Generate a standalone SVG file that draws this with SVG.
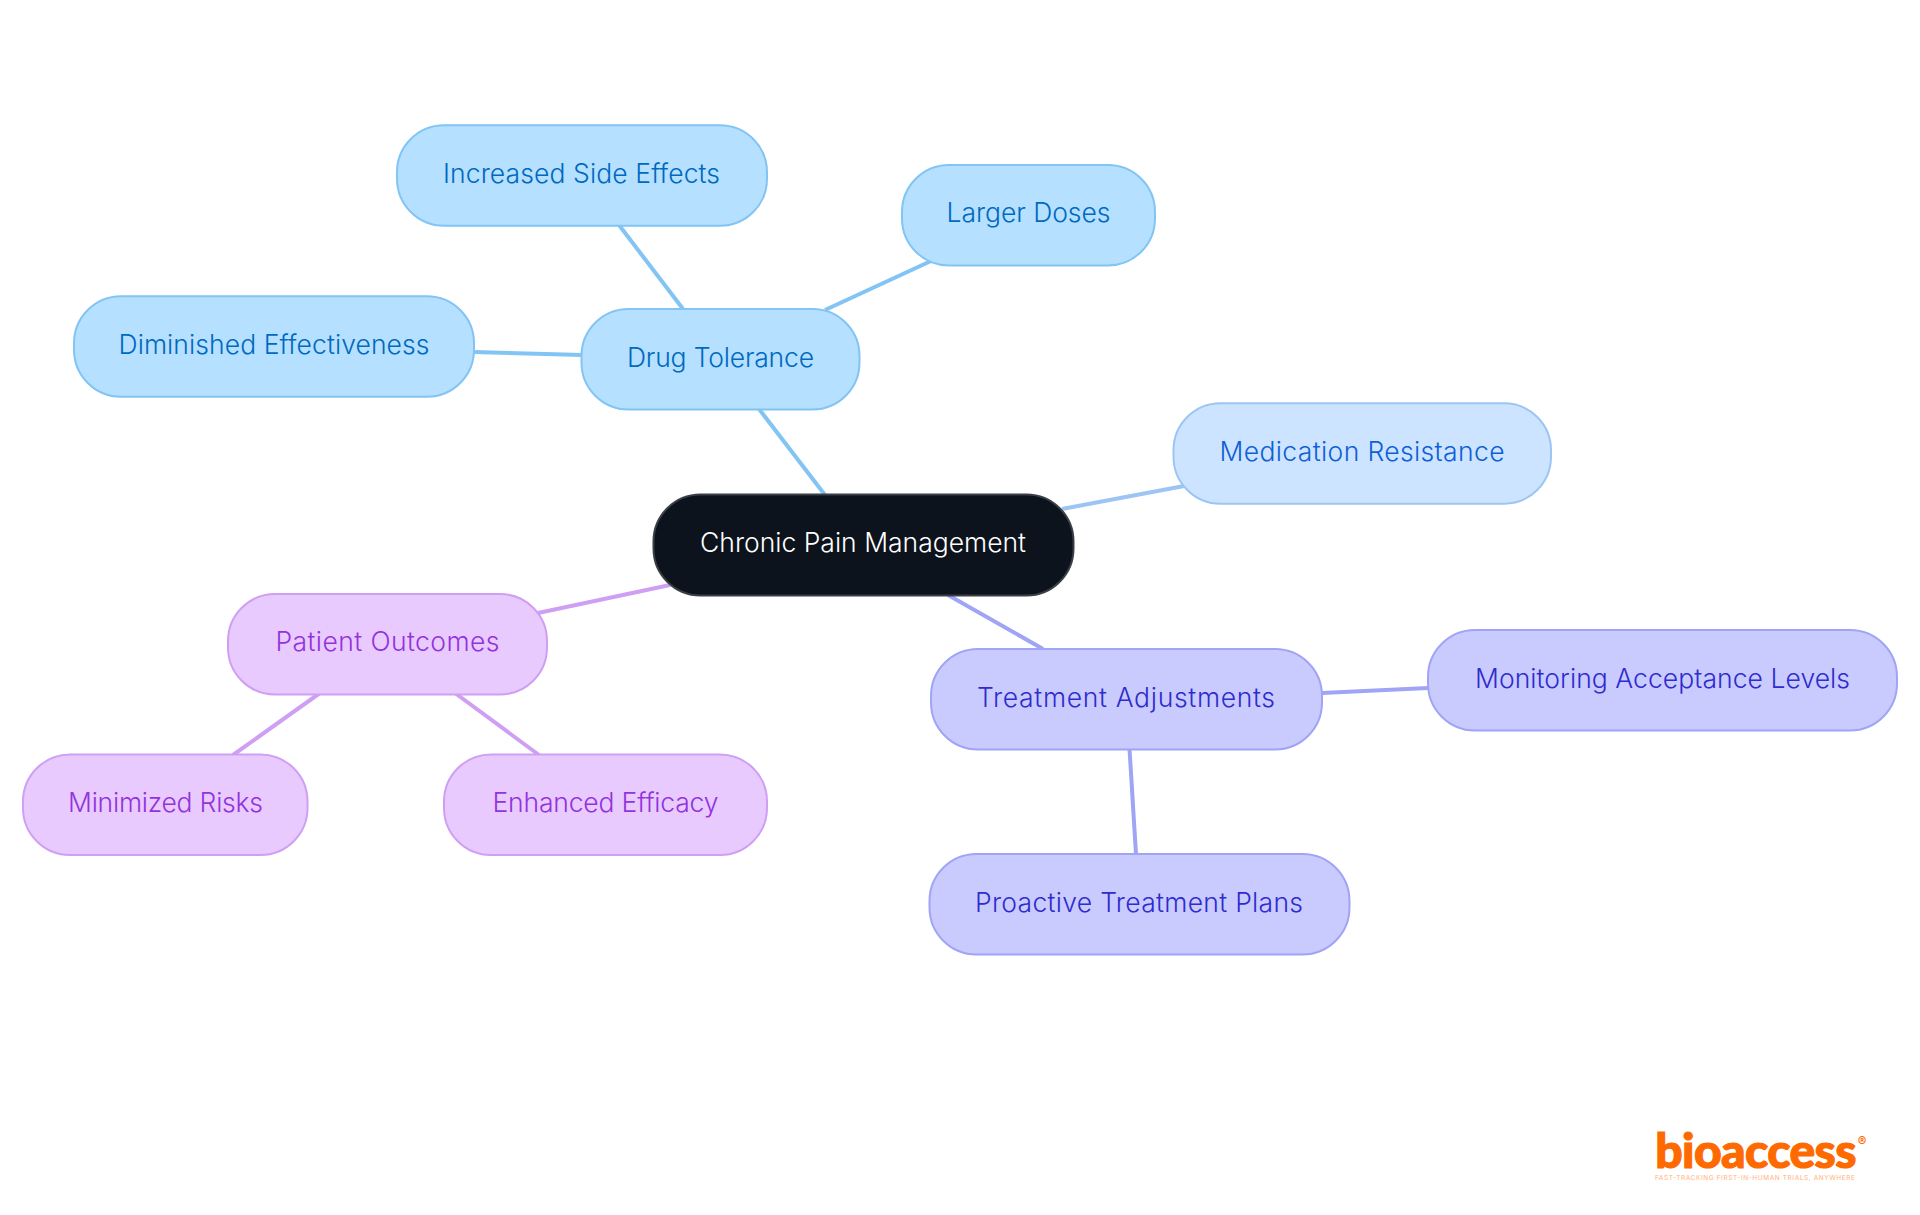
<svg xmlns="http://www.w3.org/2000/svg" width="1920" height="1215" viewBox="0 0 1920 1215">
<style>
text{font-family:"Inter","Noto Sans",sans-serif;font-size:26.5px;font-weight:350;text-anchor:middle}
.n{stroke-width:2}
.b rect{fill:#b5e0ff;stroke:#82c4f4}.b text{fill:#0069c0}
.m rect{fill:#cce4ff;stroke:#9cc5f4}.m text{fill:#0f5fd6}
.p rect{fill:#e8caff;stroke:#cf9ff4}.p text{fill:#9333dc}
.t rect{fill:#c9cbff;stroke:#a0a4f5}.t text{fill:#2f2bce}
.c line{stroke-width:4;fill:none}
</style>
<rect width="1920" height="1215" fill="#fff"/>
<g id="connectors" class="c">
<line x1="825" y1="495" x2="759" y2="409" stroke="#82c4f4"/>
<line x1="683" y1="309" x2="619" y2="225" stroke="#82c4f4"/>
<line x1="825" y1="310" x2="931" y2="261" stroke="#82c4f4"/>
<line x1="582" y1="355" x2="474" y2="352" stroke="#82c4f4"/>
<line x1="1062" y1="509" x2="1184" y2="486" stroke="#9cc5f4"/>
<line x1="670" y1="585" x2="538" y2="613" stroke="#cf9ff4"/>
<line x1="320" y1="693" x2="233" y2="755" stroke="#cf9ff4"/>
<line x1="455" y1="693" x2="539" y2="755" stroke="#cf9ff4"/>
<line x1="948" y1="595" x2="1043" y2="649" stroke="#a0a4f5"/>
<line x1="1322" y1="693" x2="1428" y2="688" stroke="#a0a4f5"/>
<line x1="1129.500" y1="749" x2="1136" y2="854" stroke="#a0a4f5"/>
</g>
<g id="root"><rect x="653.5" y="494.5" width="420" height="101" rx="47" fill="#0c131c" stroke="#3a3f46" stroke-width="2"/><text x="863" y="552" fill="#fff" textLength="326">Chronic Pain Management</text></g>
<g id="drug" class="b"><rect class="n" x="581.500" y="309" width="278" height="100.500" rx="47"/><text x="720.500" y="367" textLength="187">Drug Tolerance</text></g>
<g id="doses" class="b"><rect class="n" x="902" y="165" width="253" height="100.500" rx="47"/><text x="1028.500" y="222" textLength="164">Larger Doses</text></g>
<g id="side" class="b"><rect class="n" x="397" y="125.300" width="370" height="100.500" rx="47"/><text x="581.500" y="183" textLength="277">Increased Side Effects</text></g>
<g id="dim" class="b"><rect class="n" x="74" y="296.300" width="400" height="100.500" rx="47"/><text x="274" y="354" textLength="311">Diminished Effectiveness</text></g>
<g id="med" class="m"><rect class="n" x="1173.500" y="403.300" width="377.500" height="100.500" rx="47"/><text x="1362" y="461" textLength="285">Medication Resistance</text></g>
<g id="pat" class="p"><rect class="n" x="228" y="594" width="319" height="100.500" rx="47"/><text x="387.500" y="651" textLength="224">Patient Outcomes</text></g>
<g id="min" class="p"><rect class="n" x="23" y="754.500" width="284.500" height="100.500" rx="47"/><text x="165.500" y="812" textLength="195">Minimized Risks</text></g>
<g id="enh" class="p"><rect class="n" x="444" y="754.500" width="323" height="100.500" rx="47"/><text x="605.500" y="812" textLength="226">Enhanced Efficacy</text></g>
<g id="treat" class="t"><rect class="n" x="931" y="649" width="391" height="100.500" rx="47"/><text x="1126" y="707" textLength="298">Treatment Adjustments</text></g>
<g id="mon" class="t"><rect class="n" x="1428" y="630" width="469" height="100.500" rx="47"/><text x="1662.500" y="688" textLength="375">Monitoring Acceptance Levels</text></g>
<g id="pro" class="t"><rect class="n" x="929.500" y="854" width="420" height="100.500" rx="47"/><text x="1139" y="912" textLength="328">Proactive Treatment Plans</text></g>
<g id="logo"><text x="1755.500" y="1168" style="font-family:Lato,sans-serif;font-size:48px;font-weight:900;fill:#ff6a00;stroke:#ff6a00;stroke-width:1.2;letter-spacing:-.6px">bioaccess</text><text x="1862" y="1146" style="font-size:13px;font-weight:700;fill:#ff6a00">®</text><text x="1755" y="1180" textLength="200" style="font-size:6.5px;font-weight:400;fill:#ffb27a">FAST-TRACKING FIRST-IN-HUMAN TRIALS, ANYWHERE</text></g>
</svg>
